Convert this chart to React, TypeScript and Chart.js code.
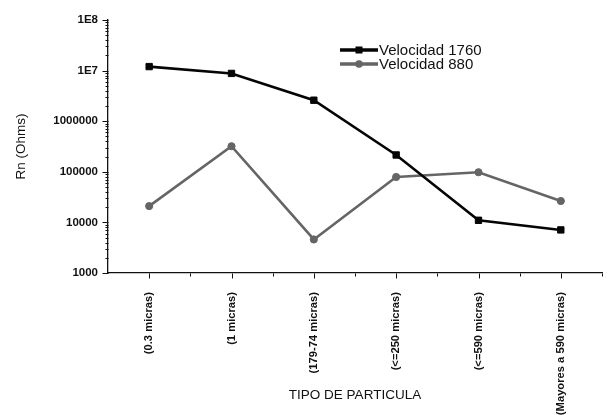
import { useEffect, useRef } from "react";
import { Chart, registerables } from "chart.js";

Chart.register(...registerables);

// Resistance (Ohms) by particle size, for the two speeds
const categories = [
  "(0.3 micras)",
  "(1 micras)",
  "(179-74 micras)",
  "(<=250 micras)",
  "(<=590 micras)",
  "(Mayores a 590 micras)",
];
const velocidad1760 = [1.2e7, 8.8e6, 2.6e6, 2.15e5, 1.1e4, 7.1e3];
const velocidad880 = [2.1e4, 3.2e5, 4.6e3, 7.9e4, 9.8e4, 2.65e4];
const yTickValues = [1e3, 1e4, 1e5, 1e6, 1e7, 1e8];
const yTickLabels = ["1000", "10000", "100000", "1000000", "1E7", "1E8"];

const FONT = "'Liberation Sans', Arial, sans-serif";

// Outward tick marks: long at decades / categories, short in between
const axisTicks = {
  id: "axisTicks",
  afterDraw(chart: any) {
    const { ctx, chartArea, scales } = chart;
    const x = scales.x;
    const y = scales.y;
    const left = Math.round(chartArea.left) + 0.5;
    const bottom = Math.round(chartArea.bottom) + 0.5;
    ctx.save();
    ctx.strokeStyle = "#111";
    ctx.lineWidth = 1;
    ctx.beginPath();
    for (let i = 0; i < yTickValues.length; i++) {
      const v = yTickValues[i];
      const py = Math.round(y.getPixelForValue(v)) + 0.5;
      ctx.moveTo(left - 6, py);
      ctx.lineTo(left, py);
      if (i < yTickValues.length - 1) {
        for (let m = 2; m <= 9; m++) {
          const p = Math.round(y.getPixelForValue(v * m)) + 0.5;
          ctx.moveTo(left - 3, p);
          ctx.lineTo(left, p);
        }
      }
    }
    const step = x.getPixelForValue(1) - x.getPixelForValue(0);
    for (let i = 0; i < categories.length; i++) {
      const px = Math.round(x.getPixelForValue(i)) + 0.5;
      ctx.moveTo(px, bottom);
      ctx.lineTo(px, bottom + 5);
      const mid = Math.round(x.getPixelForValue(i) + step / 2) + 0.5;
      ctx.moveTo(mid, bottom);
      ctx.lineTo(mid, bottom + 3);
    }
    ctx.stroke();
    ctx.restore();
  },
};

// Legend drawn inside the plot, upper right
const innerLegend = {
  id: "innerLegend",
  afterDraw(chart: any) {
    const { ctx } = chart;
    const x0 = 340;
    const x1 = 378;
    const rows = [50, 64];
    ctx.save();
    chart.data.datasets.forEach((ds: any, i: number) => {
      const yy = rows[i];
      ctx.strokeStyle = ds.borderColor;
      ctx.lineWidth = 3.5;
      ctx.beginPath();
      ctx.moveTo(x0, yy);
      ctx.lineTo(x1, yy);
      ctx.stroke();
      ctx.fillStyle = ds.pointBackgroundColor;
      const cx = (x0 + x1) / 2;
      if (ds.pointStyle === "rect") {
        ctx.fillRect(cx - 3.5, yy - 3.5, 7, 7);
      } else {
        ctx.beginPath();
        ctx.arc(cx, yy, 3.8, 0, Math.PI * 2);
        ctx.fill();
      }
      ctx.fillStyle = "#111";
      ctx.font = `15px ${FONT}`;
      ctx.textBaseline = "middle";
      ctx.textAlign = "left";
      ctx.fillText(ds.label, 379, yy + 0.5);
    });
    ctx.restore();
  },
};

export default function App() {
  const canvasRef = useRef<HTMLCanvasElement | null>(null);

  useEffect(() => {
    if (!canvasRef.current) return;
    const chart = new Chart(canvasRef.current, {
      type: "line",
      data: {
        labels: categories,
        datasets: [
          {
            label: "Velocidad 1760",
            data: velocidad1760,
            borderColor: "#050505",
            backgroundColor: "#050505",
            pointBackgroundColor: "#050505",
            pointBorderColor: "#050505",
            borderWidth: 2.6,
            pointStyle: "rect",
            pointRadius: 4.5,
            pointBorderWidth: 1,
            tension: 0,
          },
          {
            label: "Velocidad 880",
            data: velocidad880,
            borderColor: "#656565",
            backgroundColor: "#656565",
            pointBackgroundColor: "#656565",
            pointBorderColor: "#656565",
            borderWidth: 2.6,
            pointStyle: "circle",
            pointRadius: 3.6,
            pointBorderWidth: 1,
            tension: 0,
          },
        ],
      },
      options: {
        animation: false,
        responsive: true,
        maintainAspectRatio: false,
        layout: { padding: { top: 20, right: 12, left: 0, bottom: 0 } },
        plugins: {
          legend: { display: false },
          tooltip: { enabled: false },
        },
        scales: {
          x: {
            type: "category",
            offset: true,
            grid: { display: false, drawTicks: false },
            border: { display: true, color: "#111", width: 1.3 },
            ticks: {
              autoSkip: false,
              maxRotation: 90,
              minRotation: 90,
              padding: 19,
              color: "#111",
              font: { family: FONT, size: 11.2, weight: "bold" },
            },
            title: {
              display: true,
              text: "TIPO DE PARTICULA",
              color: "#111",
              font: { family: FONT, size: 13.5 },
              padding: { top: 0, bottom: 12 },
            },
            afterFit(scale: any) {
              scale.height = 142;
            },
          },
          y: {
            type: "logarithmic",
            min: 1000,
            max: 1e8,
            grid: { display: false, drawTicks: false },
            border: { display: true, color: "#111", width: 1.3 },
            afterBuildTicks(scale: any) {
              scale.ticks = yTickValues.map((v) => ({ value: v, major: true }));
            },
            ticks: {
              autoSkip: false,
              padding: 10,
              color: "#111",
              font: { family: FONT, size: 11.5, weight: "bold" },
              callback: (value: any) => {
                const idx = yTickValues.indexOf(Number(value));
                return idx >= 0 ? yTickLabels[idx] : "";
              },
            },
            title: {
              display: true,
              text: "Rn (Ohms)",
              color: "#111",
              font: { family: FONT, size: 13.5 },
              padding: { top: 13, bottom: 0 },
            },
            afterFit(scale: any) {
              scale.width = 108;
            },
          },
        },
      },
      plugins: [axisTicks, innerLegend],
    });
    return () => chart.destroy();
  }, []);

  return (
    <div
      style={{
        position: "absolute",
        left: 0,
        top: 0,
        width: 614,
        height: 415,
        background: "#fff",
      }}
    >
      <canvas ref={canvasRef} />
    </div>
  );
}
